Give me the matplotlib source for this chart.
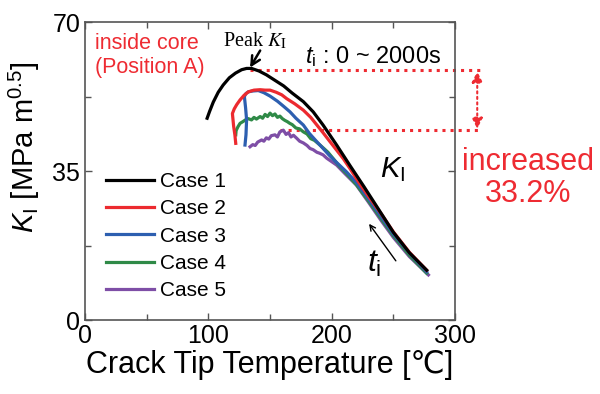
import numpy as np
import matplotlib
matplotlib.use("Agg")
import matplotlib.pyplot as plt
from matplotlib.ticker import MultipleLocator

plt.rcParams["font.family"] = ["Liberation Sans", "DejaVu Sans"]
plt.rcParams["mathtext.fontset"] = "custom"
plt.rcParams["mathtext.rm"] = "Liberation Sans"
plt.rcParams["mathtext.it"] = "Liberation Sans:italic"

# data (crack tip temperature [C], K_I [MPa m^0.5])
case1_T = [99, 101, 104, 108, 112, 117, 122, 127, 131, 135, 141, 147, 154, 161, 168,
           177, 185, 193, 204, 215, 226, 238, 250, 263, 277]
case1_K = [47.4, 49.0, 51.2, 53.5, 55.2, 56.9, 58.0, 58.8, 59.1, 59.1, 58.5, 57.6, 56.3, 55.0, 53.3,
           51.3, 48.9, 45.8, 41.1, 36.2, 31.4, 26.0, 20.6, 15.8, 11.7]

case2_T = [122.2, 121.5, 120.5, 119.5, 121, 123, 125.7, 129, 132.4, 137, 142, 146, 150, 155, 159.5,
           163.5, 170, 177, 183, 188, 193, 198.6, 204, 209.4, 215, 221.6, 230, 240, 250, 263, 277]
case2_K = [41.5, 43.5, 45.5, 48.5, 49.6, 50.6, 51.7, 52.8, 53.6, 54.0, 54.1, 54.0, 54.0, 53.5, 52.9,
           52.0, 50.8, 49.3, 47.6, 45.8, 44.0, 41.9, 39.9, 37.9, 35.5, 32.5, 29.0, 25.0, 20.7, 15.9, 11.7]

case3_T = [129.7, 130.5, 131, 130.2, 129.2, 130.5, 132.4, 136, 140.5, 145, 150, 156, 161, 166.2,
           171, 177, 182, 187.9, 193, 198, 204, 212, 220, 230, 240, 250, 263, 277]
case3_K = [41.1, 43.5, 47.0, 49.8, 52.5, 53.2, 53.6, 53.8, 53.9, 53.4, 52.6, 51.4, 50.2, 48.9,
           47.4, 45.8, 43.8, 41.9, 40.3, 38.7, 37.0, 34.8, 32.3, 28.4, 24.3, 20.2, 15.7, 11.3]

case4_T = [122.2, 122.5, 124, 125.7, 128, 130, 132.4, 135, 137, 139, 142, 144, 146, 148, 150, 152,
           154, 156, 158, 160, 162, 164, 166, 168, 171, 174, 177, 180, 183, 186, 190.5, 194, 197,
           201.3, 206, 212, 220, 230, 240, 250, 263, 277]
case4_K = [43.5, 44.5, 45.4, 46.2, 46.6, 47.0, 47.3, 47.0, 47.6, 47.2, 47.8, 47.4, 48.3, 47.8, 48.6, 48.0,
           48.4, 47.6, 47.9, 47.3, 46.9, 46.6, 46.2, 45.9, 45.1, 44.9, 44.2, 43.7, 42.6, 42.2, 41.1, 40.2, 39.4,
           37.9, 36.2, 34.4, 31.8, 27.9, 23.8, 19.8, 15.2, 11.0]

case5_T = [133.8, 136, 138, 140, 143.2, 145, 147, 149, 151, 154, 156, 158, 160.8, 163, 165, 167, 169,
           171.6, 174, 177, 180, 182.4, 185, 188, 190, 193, 196, 199, 204, 210, 220, 230, 240, 250,
           263, 278.4]
case5_K = [40.7, 41.2, 41.0, 41.8, 42.3, 42.0, 42.8, 42.5, 43.3, 43.5, 43.0, 44.2, 44.6, 43.6, 44.0, 43.0, 43.4,
           42.7, 42.0, 41.6, 41.0, 40.3, 40.0, 39.4, 39.2, 38.8, 38.0, 37.4, 36.4, 34.6, 31.7, 27.6, 23.4, 19.4,
           14.9, 10.6]

labels = ["Case 1", "Case 2", "Case 3", "Case 4", "Case 5"]
colors = ["black", "#ec2a2f", "#2d5fb0", "#2f8a47", "#7e4ea6"]

peak_K = 58.7
case5_level = 44.6
red = "#ee2b32"

fig = plt.figure(figsize=(6, 3.94), dpi=100)
ax = fig.add_axes([0.1417, 0.1878, 0.6167, 0.7563])

series = [(case1_T, case1_K), (case2_T, case2_K), (case3_T, case3_K),
          (case4_T, case4_K), (case5_T, case5_K)]
# draw case 1 on top
for i in [4, 3, 2, 1, 0]:
    T, K = series[i]
    ax.plot(T, K, color=colors[i], linewidth=2.3, label=labels[i], zorder=3 + (4 - i))

ax.set_xlim(0, 300)
ax.set_ylim(0, 70)
ax.xaxis.set_major_locator(MultipleLocator(100))
ax.xaxis.set_minor_locator(MultipleLocator(50))
ax.yaxis.set_major_locator(MultipleLocator(35))
ax.yaxis.set_minor_locator(MultipleLocator(17.5))
ax.tick_params(which="both", direction="in", top=True, right=True, colors="#555555",
               labelcolor="black", labelsize=18, width=1)
ax.tick_params(which="major", length=5)
ax.tick_params(which="minor", length=4)
ax.tick_params(axis="x", pad=3)
for s in ax.spines.values():
    s.set_color("#555555")
    s.set_linewidth(1.2)

ax.set_xlabel("Crack Tip Temperature [℃]", fontsize=22, labelpad=1)
ax.set_ylabel(r"$K_\mathrm{I}$ [MPa m$^{0.5}$]", fontsize=21, labelpad=0)
ax.yaxis.set_label_coords(-0.115, 0.58)

handles, labs = ax.get_legend_handles_labels()
order = [labs.index(l) for l in labels]
ax.legend([handles[j] for j in order], labels, loc="upper left", bbox_to_anchor=(0.035, 0.525),
          frameon=False, fontsize=15, handlelength=2.3, handletextpad=0.3, labelspacing=0.4,
          borderaxespad=0)

# dotted reference levels
ax.plot([134, 320], [peak_K, peak_K], color=red, linestyle=":", linewidth=2.2, clip_on=False, zorder=2)
ax.plot([158, 320], [case5_level, case5_level], color=red, linestyle=":", linewidth=2.2,
        clip_on=False, zorder=2)
ax.annotate("", xy=(318, peak_K - 0.3), xytext=(318, case5_level + 0.3),
            arrowprops=dict(arrowstyle="<|-|>", color=red, lw=1.5, linestyle=":",
                            mutation_scale=16, shrinkA=0, shrinkB=0),
            annotation_clip=False)

ax.text(8, 67.5, "inside core\n(Position A)", color=red, fontsize=15.5, va="top", ha="left",
        linespacing=1.2)
ax.text(112, 64.2, r"Peak $K_\mathrm{I}$", fontsize=14.5, family="Liberation Serif",
        math_fontfamily="stix", va="baseline")
ax.annotate("", xy=(133.8, 59.3), xytext=(142, 63.3),
            arrowprops=dict(arrowstyle="->", color="black", lw=1.8, mutation_scale=16,
                            shrinkA=0, shrinkB=0))
ax.text(178, 60.4, r"$t_\mathrm{i}$ : 0 ~ 2000s", fontsize=17, va="baseline")
ax.text(239, 33.6, r"$K_\mathrm{I}$", fontsize=21, va="baseline")
ax.text(229, 11.3, r"$t_\mathrm{i}$", fontsize=23, va="baseline")
ax.annotate("", xy=(230.3, 22.6), xytext=(252, 13.9),
            arrowprops=dict(arrowstyle="->", color="black", lw=1.0, mutation_scale=10,
                            shrinkA=0, shrinkB=0))
ax.text(359, 33.4, "increased\n33.2%", color=red, fontsize=22, ha="center", va="center",
        multialignment="center", linespacing=1.1, clip_on=False)

fig.savefig("out.png", dpi=100)
